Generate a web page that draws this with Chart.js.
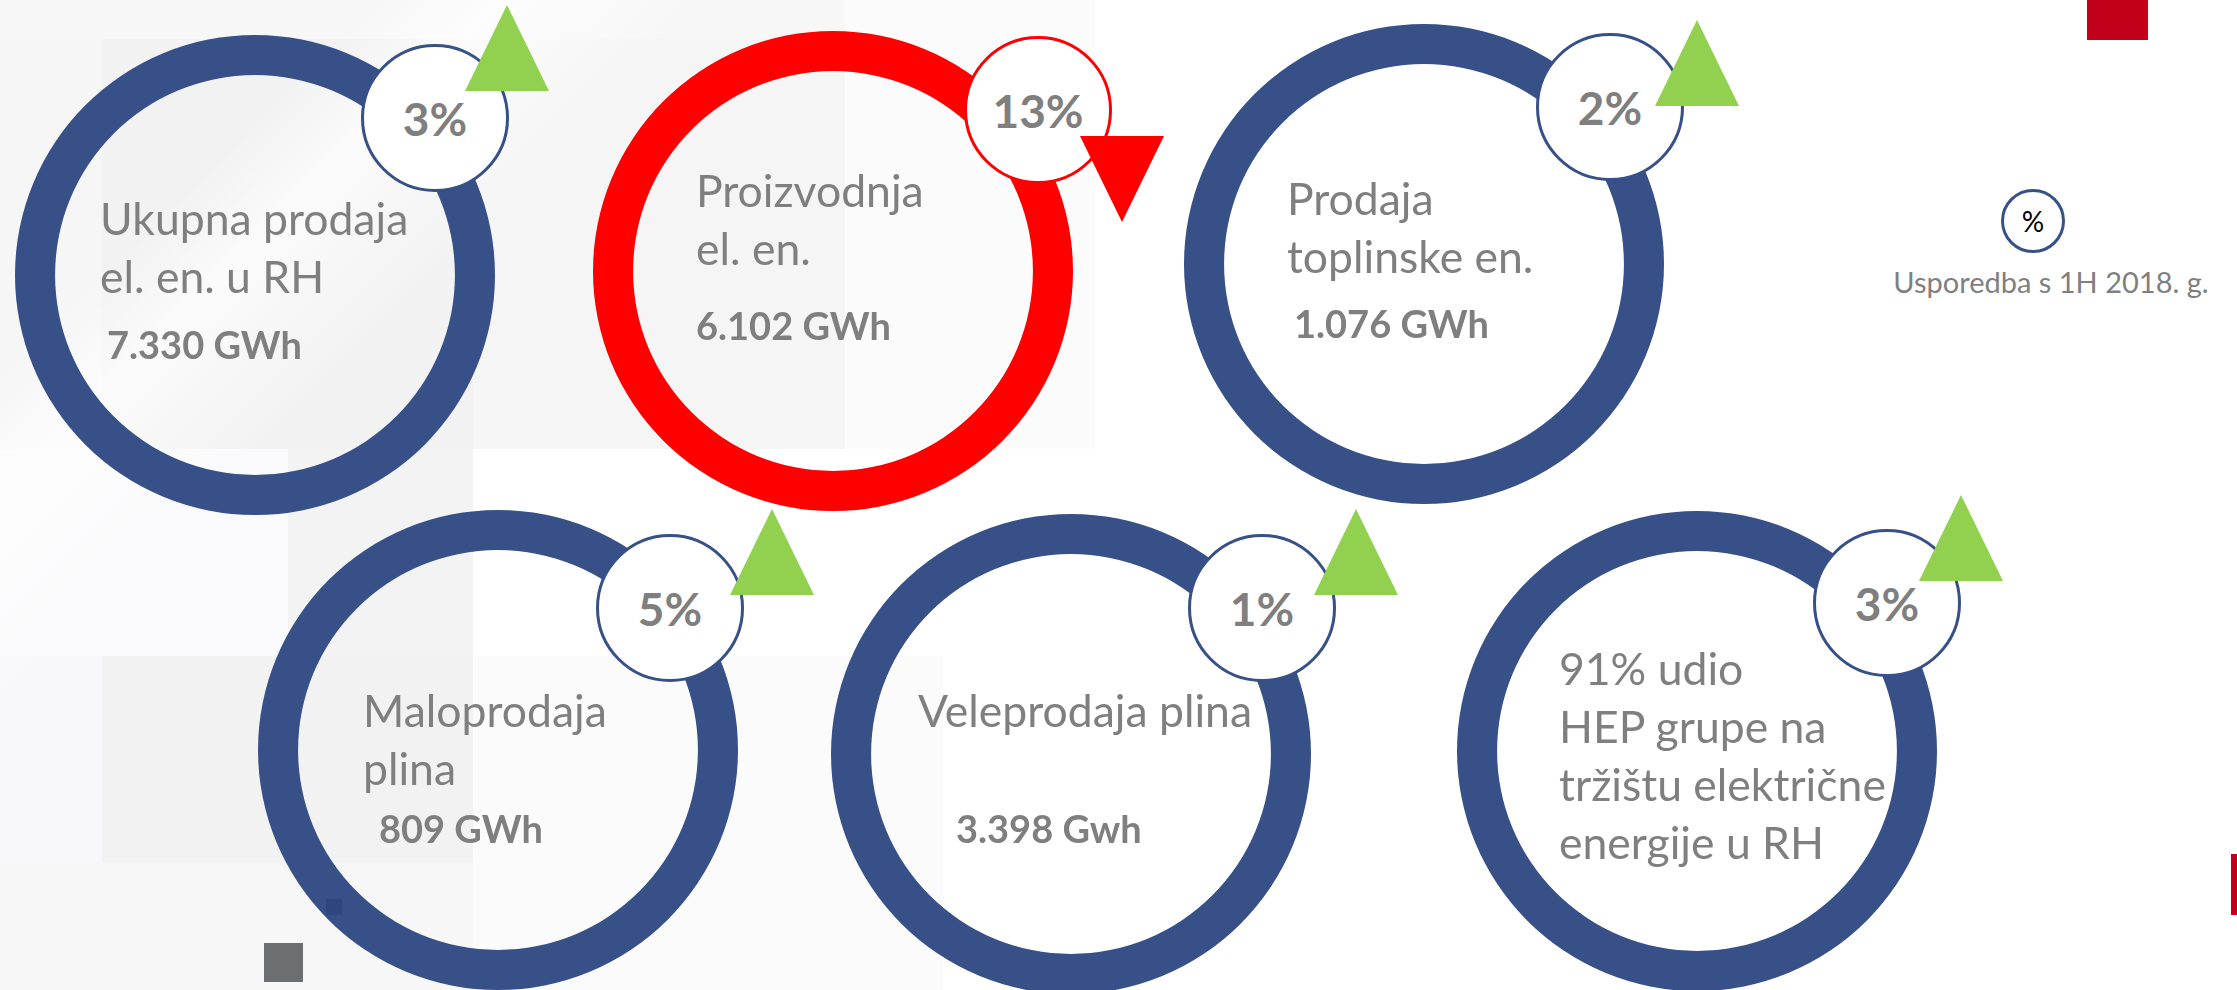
<!DOCTYPE html>
<html>
<head>
<meta charset="utf-8">
<script src="https://cdn.jsdelivr.net/npm/chart.js@4"></script>
<style>
    html, body {
        margin: 0;
        padding: 0;
    }
    body {
        width: 2237px;
        height: 990px;
        overflow: hidden;
        position: relative;
        background: #ffffff;
        font-family: Lato, "Open Sans", sans-serif;
    }
    .abs { position: absolute; }
    .bg { position: absolute; }
    .ring { position: absolute; width: 480px; height: 480px; z-index: 2; }
    .label {
        position: absolute;
        z-index: 3;
        color: #7f7f7f;
        font-size: 44.5px;
        line-height: 58px;
        white-space: nowrap;
    }
    .amount {
        position: absolute;
        z-index: 3;
        color: #7f7f7f;
        font-size: 38px;
        font-weight: bold;
        line-height: 38px;
        white-space: nowrap;
    }
    .badge {
        position: absolute;
        z-index: 4;
        width: 148px;
        height: 148px;
        box-sizing: border-box;
        border-radius: 50%;
        background: #ffffff;
        display: flex;
        align-items: center;
        justify-content: center;
        color: #7f7f7f;
        font-size: 46px;
        font-weight: bold;
    }
    .tri {
        position: absolute;
        z-index: 5;
        width: 84px;
        height: 86px;
    }
    .tri.up { background: #92d050; clip-path: polygon(50% 0, 100% 100%, 0 100%); }
    .tri.down { background: #ff0000; clip-path: polygon(0 0, 100% 0, 50% 100%); }
</style>
</head>
<body>
<div id="stage"></div>

<script>
// Data
const categories = [
    ['Ukupna prodaja', 'el. en. u RH'],
    ['Proizvodnja', 'el. en.'],
    ['Prodaja', 'toplinske en.'],
    ['Maloprodaja', 'plina'],
    ['Veleprodaja plina'],
    ['91% udio', 'HEP grupe na', 'tržištu električne', 'energije u RH']
];
const values = [7330, 6102, 1076, 809, 3398, 91];
const amountLabels = ['7.330 GWh', '6.102 GWh', '1.076 GWh', '809 GWh', '3.398 Gwh', ''];
const changes = [3, 13, 2, 5, 1, 3];
const trend = ['up', 'down', 'up', 'up', 'up', 'up'];
const legendLabel = 'Usporedba s 1H 2018. g.';

// Layout (page pixels)
const layout = [
    { ring: [255, 275],  badge: [435, 118],  tri: [507, 5],    text: [100, 235],  amt: [107, 359] },
    { ring: [833, 271],  badge: [1038, 110], tri: [1122, 136], text: [696, 207],  amt: [696, 340] },
    { ring: [1424, 264], badge: [1610, 107], tri: [1697, 20],  text: [1287, 215], amt: [1294, 338] },
    { ring: [498, 750],  badge: [670, 608],  tri: [772, 509],  text: [363, 727],  amt: [379, 843] },
    { ring: [1071, 754], badge: [1262, 608], tri: [1356, 509], text: [918, 727],  amt: [956, 843] },
    { ring: [1697, 751], badge: [1887, 603], tri: [1961, 495], text: [1559, 685], amt: null }
];

const NAVY = '#375088';
const RED = '#ff0000';

const stage = document.getElementById('stage');

function el(cls, styles, text) {
    const d = document.createElement('div');
    d.className = cls;
    Object.assign(d.style, styles);
    if (text !== undefined) d.textContent = text;
    stage.appendChild(d);
    return d;
}

// top of a text box so the first baseline lands on y
function topFor(baseline, lineH, fontSize) {
    return (baseline - lineH / 2 - 0.387 * fontSize) + 'px';
}

// light grey background blocks on the left
const bgBlocks = [
    [0, 0, 845, 39, '#f7f7f7'],
    [0, 39, 102, 410, '#f6f6f7'],
    [102, 39, 371, 410, '#f2f2f2'],
    [473, 39, 372, 410, '#f5f5f5'],
    [845, 0, 250, 449, '#fbfbfb'],
    [0, 449, 288, 207, '#fafafc'],
    [288, 449, 185, 207, '#f3f3f3'],
    [0, 656, 102, 207, '#f8f8fa'],
    [102, 656, 371, 207, '#f2f2f2'],
    [0, 863, 473, 127, '#f7f7f7'],
    [473, 656, 470, 334, '#fbfbfb']
];
bgBlocks.forEach(b => {
    el('bg', { left: b[0] + 'px', top: b[1] + 'px', width: b[2] + 'px', height: b[3] + 'px', background: b[4] });
});
el('bg', {
    left: '0px', top: '0px', width: '1100px', height: '990px',
    background: 'linear-gradient(135deg, rgba(255,255,255,0) 18%, rgba(255,255,255,0.7) 24%, rgba(255,255,255,0) 34%)'
});

// decorative squares
el('abs', { left: '264px', top: '943px', width: '39px', height: '39px', background: '#6d6e71', zIndex: 6 });
el('abs', { left: '326px', top: '899px', width: '16px', height: '16px', background: '#2c4680', zIndex: 6 });
el('abs', { left: '2087px', top: '0px', width: '61px', height: '40px', background: '#c3001a' });
el('abs', { left: '2231px', top: '854px', width: '6px', height: '61px', background: '#c3001a' });

categories.forEach((lines, i) => {
    const L = layout[i];
    const color = trend[i] === 'down' ? RED : NAVY;

    // ring
    const wrap = el('ring', { left: (L.ring[0] - 240) + 'px', top: (L.ring[1] - 240) + 'px' });
    const canvas = document.createElement('canvas');
    canvas.width = 480;
    canvas.height = 480;
    wrap.appendChild(canvas);

    new Chart(canvas.getContext('2d'), {
        type: 'doughnut',
        data: {
            labels: [lines.join(' ')],
            datasets: [{
                data: [values[i]],
                backgroundColor: color,
                borderWidth: 0
            }]
        },
        options: {
            responsive: false,
            animation: false,
            cutout: '83.3%',
            layout: { padding: 0 },
            plugins: {
                legend: { display: false },
                tooltip: { enabled: false }
            }
        }
    });

    // label text
    const lab = el('label', { left: L.text[0] + 'px', top: topFor(L.text[1], 58, 44.5) });
    lab.innerHTML = lines.join('<br>');

    if (L.amt && amountLabels[i]) {
        el('amount', { left: L.amt[0] + 'px', top: topFor(L.amt[1], 38, 38) }, amountLabels[i]);
    }

    // percent badge
    el('badge', {
        left: (L.badge[0] - 74) + 'px',
        top: (L.badge[1] - 74) + 'px',
        border: '3px solid ' + color
    }, changes[i] + '%');

    // trend arrow
    el('tri ' + trend[i], { left: (L.tri[0] - 42) + 'px', top: L.tri[1] + 'px' });
});

// legend
el('abs', {
    left: (2033 - 32) + 'px', top: (221 - 32) + 'px', width: '64px', height: '64px',
    boxSizing: 'border-box', border: '3px solid ' + NAVY, borderRadius: '50%', background: '#fff',
    display: 'flex', alignItems: 'center', justifyContent: 'center',
    color: '#000', fontSize: '28px'
}, '%');
el('abs', {
    left: '1851px', width: '400px', textAlign: 'center', top: topFor(293, 30, 29),
    fontSize: '29px', lineHeight: '30px', color: '#7f7f7f', whiteSpace: 'nowrap'
}, legendLabel);
</script>
</body>
</html>
